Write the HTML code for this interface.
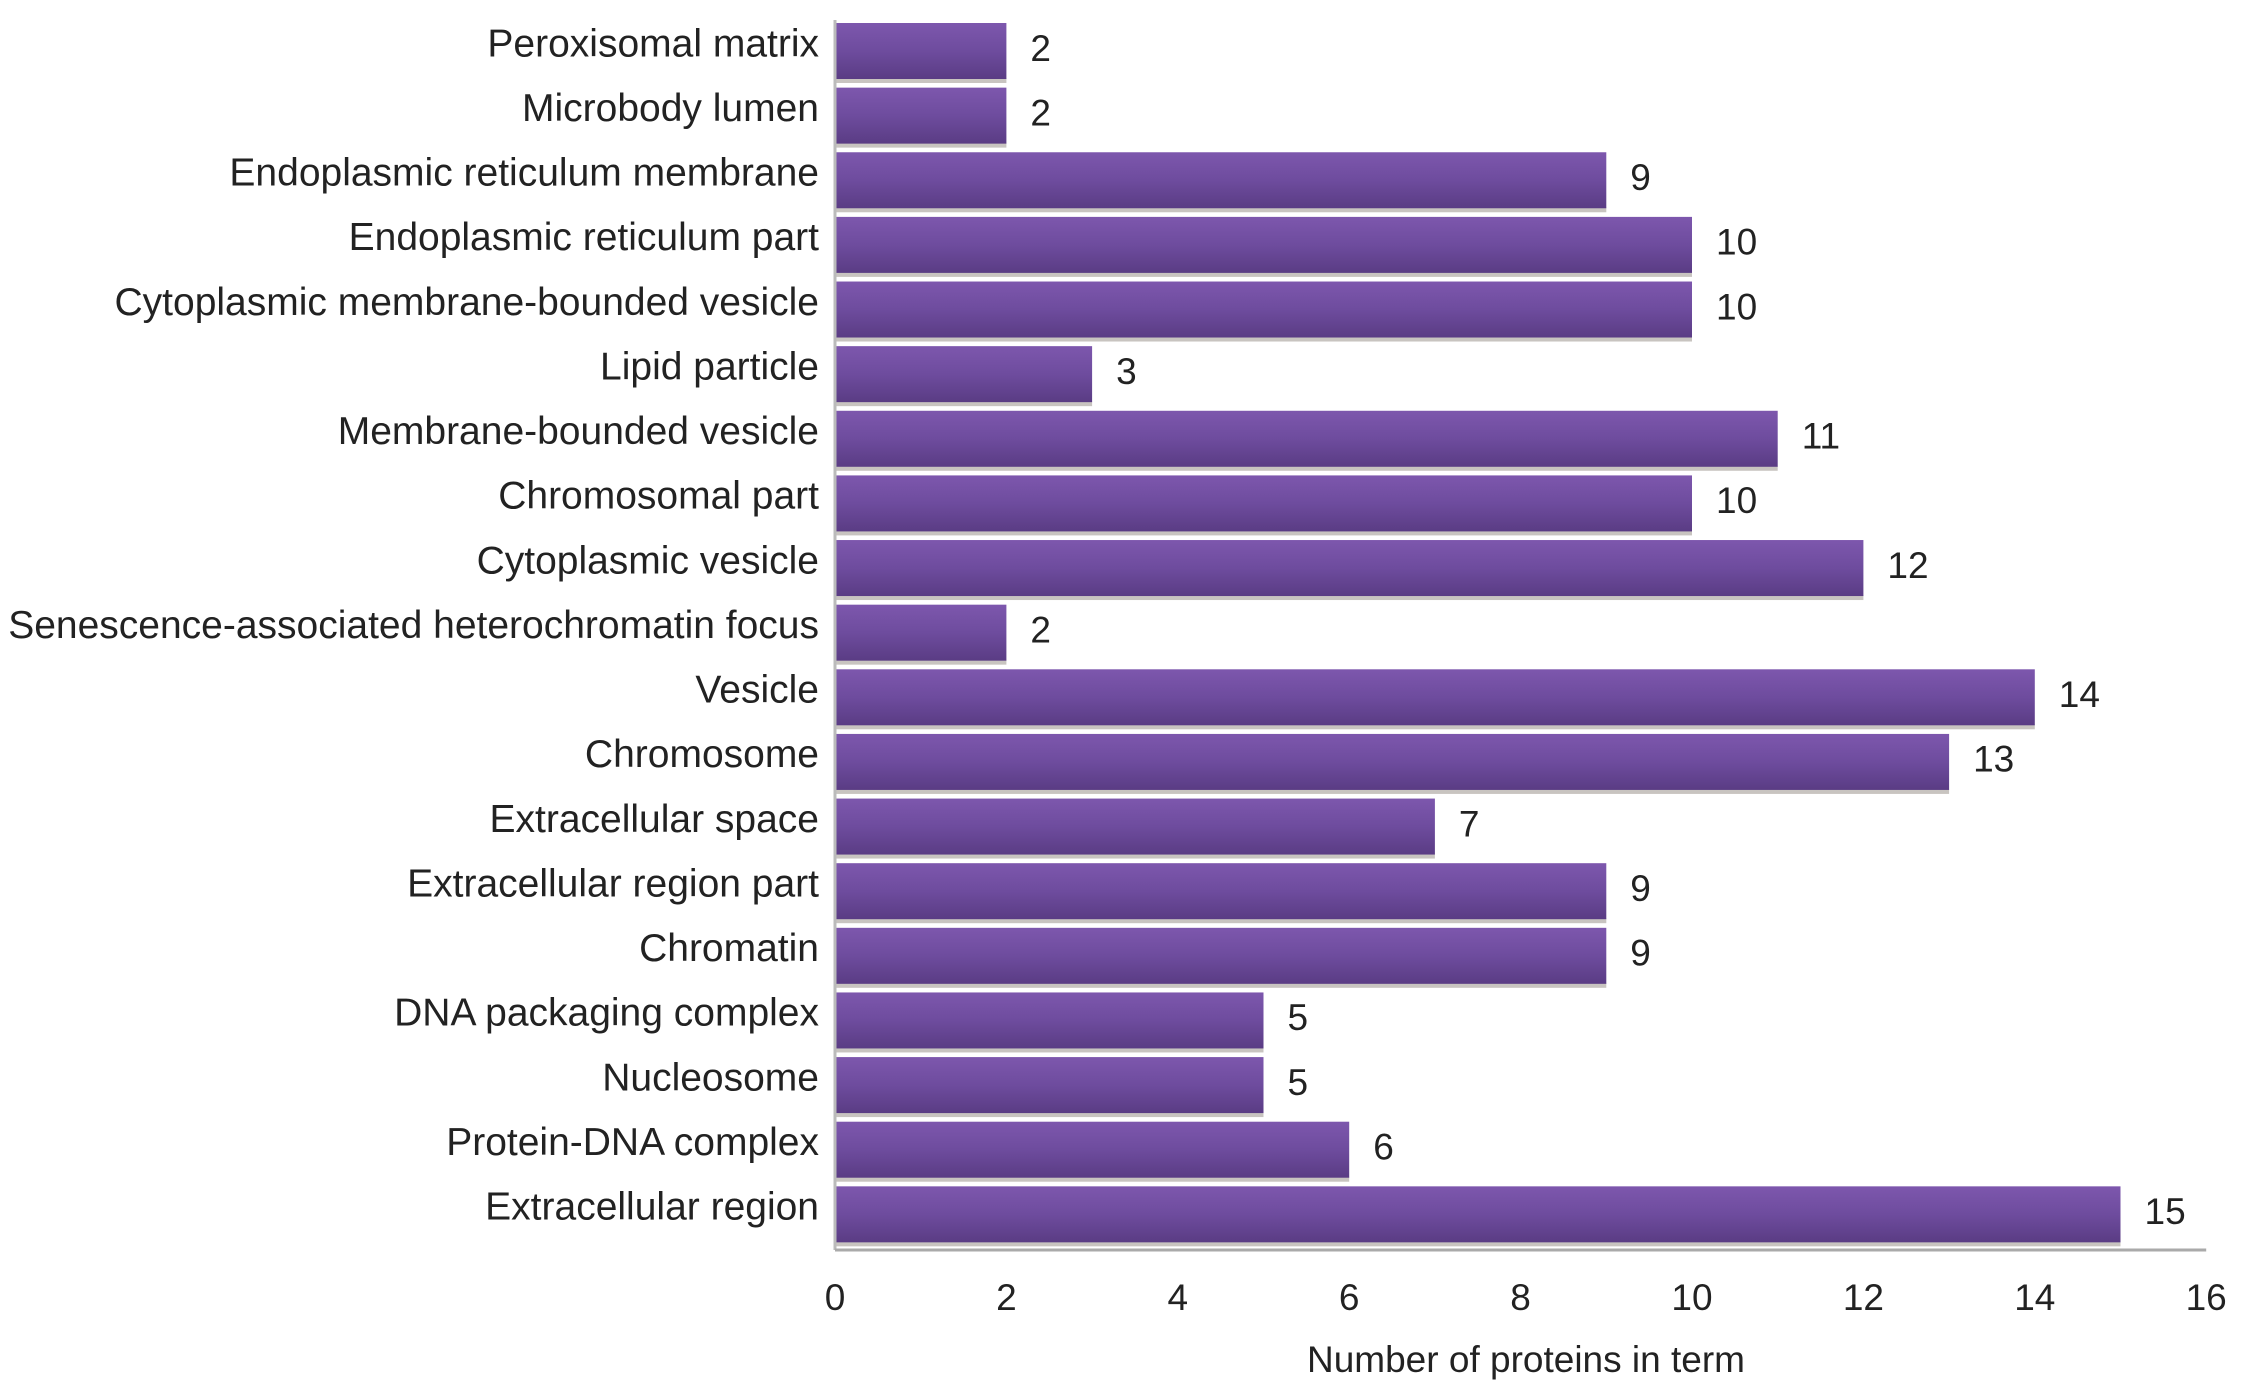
<!DOCTYPE html>
<html><head><meta charset="utf-8"><style>
html,body{margin:0;padding:0;background:#fff;}
svg{display:block;font-family:"Liberation Sans",Arial,sans-serif;}
</style></head><body>
<svg id="chart" width="2244" height="1396" viewBox="0 0 2244 1396" xmlns="http://www.w3.org/2000/svg">
<defs>
<linearGradient id="barGrad" x1="0" y1="0" x2="0" y2="1">
<stop offset="0" stop-color="#7d57ad"/>
<stop offset="0.5" stop-color="#6e4c9e"/>
<stop offset="1" stop-color="#5a3c84"/>
</linearGradient>
</defs>
<g id="bars"></g>
<g id="axes"></g>
<text x="1526" y="1362" font-size="37" fill="#222" text-anchor="middle" dominant-baseline="middle">Number of proteins in term</text>
</svg>
<script>
const categories = ["Peroxisomal matrix","Microbody lumen","Endoplasmic reticulum membrane","Endoplasmic reticulum part","Cytoplasmic membrane-bounded vesicle","Lipid particle","Membrane-bounded vesicle","Chromosomal part","Cytoplasmic vesicle","Senescence-associated heterochromatin focus","Vesicle","Chromosome","Extracellular space","Extracellular region part","Chromatin","DNA packaging complex","Nucleosome","Protein-DNA complex","Extracellular region"];
const values = [2,2,9,10,10,3,11,10,12,2,14,13,7,9,9,5,5,6,15];
const ticks = [0,2,4,6,8,10,12,14,16];

const NS="http://www.w3.org/2000/svg";
const x0=835, unit=85.7, y0=51, pitch=64.63, bh=56;
const xs=v=>x0+v*unit;
const yc=i=>y0+i*pitch;
const bars=document.getElementById('bars');
const axes=document.getElementById('axes');
function mk(tag,attrs,parent){const e=document.createElementNS(NS,tag);for(const k in attrs)e.setAttribute(k,attrs[k]);parent.appendChild(e);return e;}

categories.forEach((c,i)=>{
  const y=yc(i);
  const sh=mk('rect',{x:x0,y:y+bh/2-1,width:xs(values[i])-x0,height:5,fill:'#c8c4c0'},bars);
  
  
  const r=mk('rect',{x:x0,y:y-bh/2,width:xs(values[i])-x0,height:bh,fill:'url(#barGrad)'},bars);
  
  
  const t=mk('text',{x:819,y:y-5,'font-size':39,fill:'#222','text-anchor':'end','dominant-baseline':'middle'},bars);
  t.textContent=c;
  
  
  const v=mk('text',{x:xs(values[i])+24,y:y,'font-size':37,fill:'#222','dominant-baseline':'middle'},bars);
  v.textContent=values[i];
  
  
});
const yl=mk('line',{x1:x0,y1:20,x2:x0,y2:1250,stroke:'#bbb','stroke-width':3},axes);


const xl=mk('line',{x1:x0,y1:1250,x2:xs(16),y2:1250,stroke:'#aaa','stroke-width':3},axes);


ticks.forEach(tv=>{
  const t=mk('text',{x:xs(tv),y:1300,'font-size':37,fill:'#222','text-anchor':'middle','dominant-baseline':'middle'},axes);
  t.textContent=tv;
  
  
});
</script>
</body></html>
